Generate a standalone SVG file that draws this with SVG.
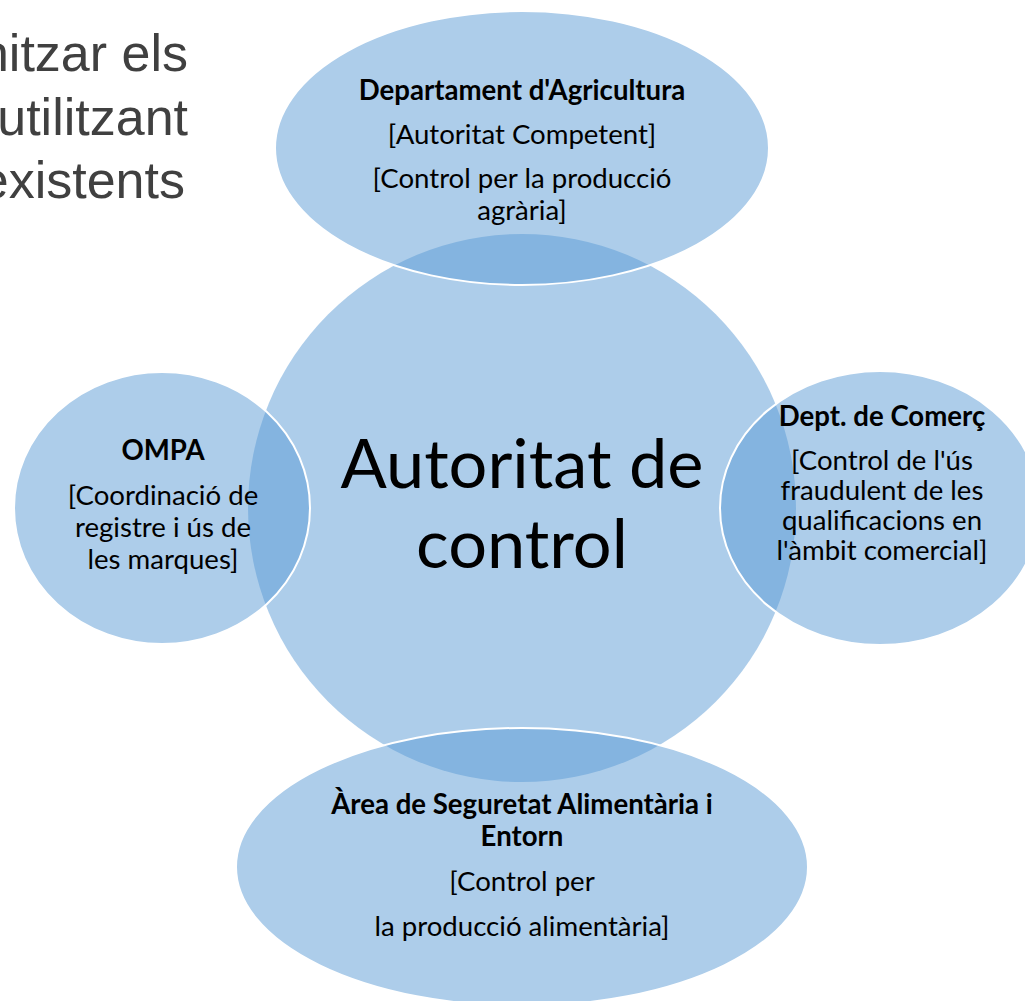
<svg xmlns="http://www.w3.org/2000/svg" width="1025" height="1001" viewBox="0 0 1025 1001">
<style>
.bg{fill:#ffffff}
.hub{fill:#5b9bd5;fill-opacity:0.5}
.sat{fill:#5b9bd5;fill-opacity:0.5;stroke:#ffffff;stroke-width:2}
.lbl{font-family:Lato,"Open Sans",sans-serif;font-size:27.6px;fill:#000;text-anchor:middle}
.hd{font-weight:bold}
.big{font-family:Lato,"Open Sans",sans-serif;font-size:68.5px;fill:#000;text-anchor:middle}
.title{font-family:"Liberation Sans",Arial,sans-serif;font-size:52px;fill:#404040;text-anchor:end}
</style>
<rect class="bg" x="0" y="0" width="1025" height="1001"/>
<g id="title-fragment">
<text class="title" x="188" y="71">nitzar els</text>
<text class="title" x="188" y="135">utilitzant</text>
<text class="title" x="185" y="198">existents</text>
</g>
<g id="connectors"></g>
<g id="hub">
<circle class="hub" cx="522" cy="508" r="274"/>
</g>
<g id="agricultura">
<ellipse class="sat" cx="522" cy="148" rx="247" ry="137"/>
</g>
<g id="ompa">
<ellipse class="sat" cx="162" cy="508" rx="148" ry="136"/>
</g>
<g id="comerc">
<ellipse class="sat" cx="880" cy="508" rx="160" ry="137"/>
</g>
<g id="seguretat">
<ellipse class="sat" cx="522" cy="867" rx="286" ry="139"/>
</g>
<g id="hub-label">
<text class="big" x="522" y="488">Autoritat de</text>
<text class="big" x="522" y="568">control</text>
</g>
<g id="agricultura-label">
<text class="lbl hd" x="522" y="100">Departament d'Agricultura</text>
<text class="lbl" x="522" y="144">[Autoritat Competent]</text>
<text class="lbl" x="522" y="188">[Control per la producció</text>
<text class="lbl" x="522" y="220">agrària]</text>
</g>
<g id="ompa-label">
<text class="lbl hd" x="163" y="460">OMPA</text>
<text class="lbl" x="163" y="505">[Coordinació de</text>
<text class="lbl" x="163" y="537">registre i ús de</text>
<text class="lbl" x="163" y="569">les marques]</text>
</g>
<g id="comerc-label">
<text class="lbl hd" x="882" y="426">Dept. de Comerç</text>
<text class="lbl" x="882" y="470">[Control de l'ús</text>
<text class="lbl" x="882" y="500">fraudulent de les</text>
<text class="lbl" x="882" y="530">qualificacions en</text>
<text class="lbl" x="882" y="560">l'àmbit comercial]</text>
</g>
<g id="seguretat-label">
<text class="lbl hd" x="522" y="814">Àrea de Seguretat Alimentària i</text>
<text class="lbl hd" x="522" y="846">Entorn</text>
<text class="lbl" x="522" y="891">[Control per</text>
<text class="lbl" x="522" y="936">la producció alimentària]</text>
</g>
</svg>
